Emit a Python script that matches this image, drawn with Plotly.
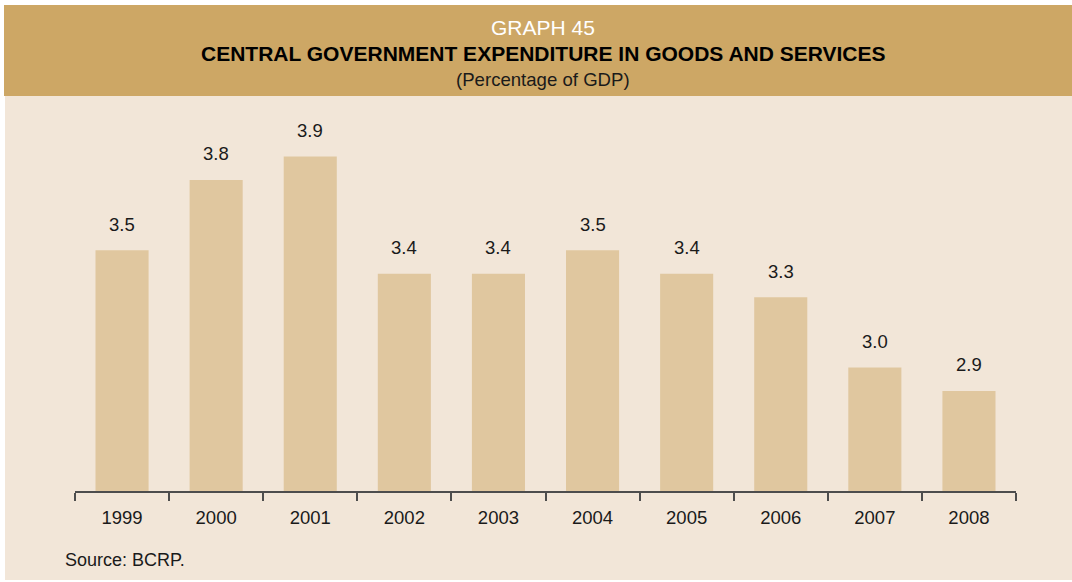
import plotly.graph_objects as go

# Central government expenditure in goods and services, % of GDP
years = ["1999", "2000", "2001", "2002", "2003", "2004", "2005", "2006", "2007", "2008"]
values = [3.5, 3.8, 3.9, 3.4, 3.4, 3.5, 3.4, 3.3, 3.0, 2.9]
value_labels = ["3.5", "3.8", "3.9", "3.4", "3.4", "3.5", "3.4", "3.3", "3.0", "2.9"]

W, H = 1072, 582
ML, MR, MT, MB = 75, 56, 110, 91
PW, PH = W - ML - MR, H - MT - MB

HEADER = "#CDA765"
BODY = "#F2E6D8"
BAR = "#E0C79F"
AXIS = "#4D4D4D"
FONT = "Liberation Sans, Arial, sans-serif"


def px(x):
    return (x - ML) / PW


def py(y):
    return (H - MB - y) / PH


fig = go.Figure()
fig.add_trace(go.Bar(
    x=years, y=values, marker=dict(color=BAR, line=dict(width=0)),
    hoverinfo="x+y",
))

annotations = []
# value labels above each bar (category positions given by index)
for i, (v, lab) in enumerate(zip(values, value_labels)):
    annotations.append(dict(
        x=i, y=v, xref="x", yref="y", text=lab, showarrow=False,
        yanchor="middle", yshift=26, font=dict(size=18.5, color="#1a1a1a", family=FONT),
    ))

# header texts and source note
annotations += [
    dict(x=px(543), y=py(27), xref="paper", yref="paper", text="GRAPH 45", showarrow=False,
         xanchor="center", yanchor="middle", font=dict(size=21, color="white", family=FONT)),
    dict(x=px(543), y=py(54), xref="paper", yref="paper",
         text="<b>CENTRAL GOVERNMENT EXPENDITURE IN GOODS AND SERVICES</b>", showarrow=False,
         xanchor="center", yanchor="middle", font=dict(size=21, color="black", family=FONT)),
    dict(x=px(543), y=py(80), xref="paper", yref="paper", text="(Percentage of GDP)", showarrow=False,
         xanchor="center", yanchor="middle", font=dict(size=18.6, color="#1a1a1a", family=FONT)),
    dict(x=px(63), y=py(560), xref="paper", yref="paper", text="Source: BCRP.", showarrow=False,
         xanchor="left", yanchor="middle", font=dict(size=18, color="#1a1a1a", family=FONT)),
]

shapes = [
    dict(type="rect", xref="paper", yref="paper", layer="below",
         x0=px(5), x1=px(W), y0=py(96), y1=py(580), fillcolor=BODY, line=dict(width=0)),
    dict(type="rect", xref="paper", yref="paper", layer="below",
         x0=px(4), x1=px(W), y0=py(5), y1=py(96), fillcolor=HEADER, line=dict(width=0)),
]

fig.update_layout(
    width=W, height=H,
    margin=dict(l=ML, r=MR, t=MT, b=MB, pad=0),
    paper_bgcolor="white", plot_bgcolor="rgba(0,0,0,0)",
    bargap=0.436, showlegend=False,
    annotations=annotations, shapes=shapes,
    font=dict(family=FONT, size=18, color="#1a1a1a"),
    xaxis=dict(
        type="category", range=[-0.5, 9.5], tickson="boundaries",
        ticks="outside", ticklen=8, tickwidth=1.5, tickcolor=AXIS,
        showline=True, linecolor=AXIS, linewidth=1.5, showgrid=False,
        tickfont=dict(size=18.5, color="#1a1a1a", family=FONT), ticklabelstandoff=9,
        fixedrange=True,
    ),
    yaxis=dict(range=[2.473, 2.473 + PH / 234.4], visible=False, fixedrange=True),
)

fig.write_html("out.html")
